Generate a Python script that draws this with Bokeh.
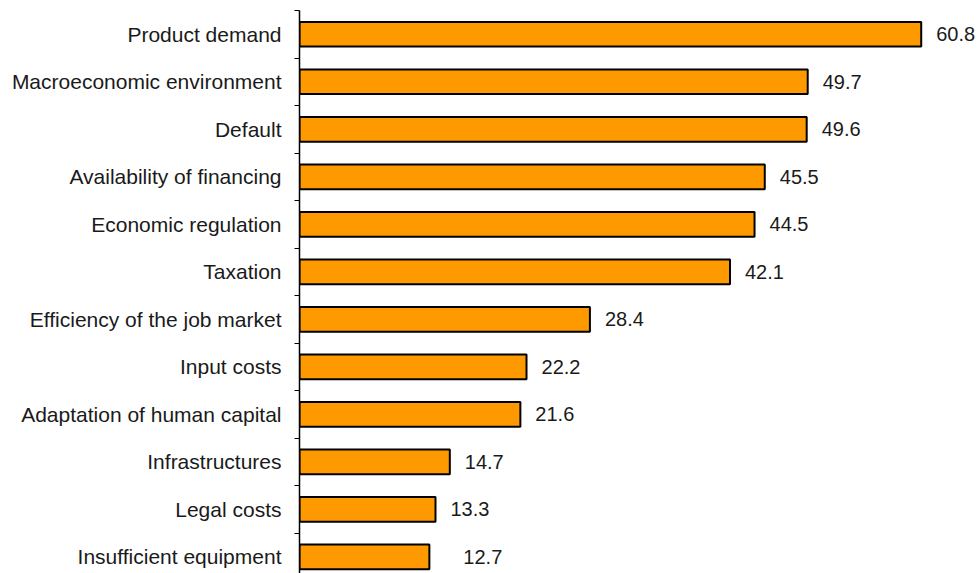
from bokeh.plotting import figure
from bokeh.models import ColumnDataSource, Range1d, FixedTicker
from bokeh.core.properties import value
from bokeh.embed import file_html
from bokeh.resources import INLINE

categories = ["Product demand", "Macroeconomic environment", "Default",
              "Availability of financing", "Economic regulation", "Taxation",
              "Efficiency of the job market", "Input costs",
              "Adaptation of human capital", "Infrastructures", "Legal costs",
              "Insufficient equipment"]
values = [60.8, 49.7, 49.6, 45.5, 44.5, 42.1, 28.4, 22.2, 21.6, 14.7, 13.3, 12.7]
value_labels = ["60.8", "49.7", "49.6", "45.5", "44.5", "42.1", "28.4", "22.2",
                "21.6", "14.7", "13.3", "12.7"]
label_offsets = [15, 15, 15, 15, 15, 15, 15, 15, 15, 15, 15, 34]

pos = list(range(len(categories)))
src = ColumnDataSource(dict(y=pos, v=values, lab=value_labels, off=label_offsets))

p = figure(width=979, height=573, output_backend="svg", toolbar_location=None,
           x_range=Range1d(0, 66.5), y_range=Range1d(11.35, -0.5),
           min_border_left=299, min_border_right=0, min_border_top=10,
           min_border_bottom=0)
p.outline_line_color = None
p.xgrid.visible = False
p.ygrid.visible = False
p.xaxis.visible = False

p.hbar(y="y", left=0, right="v", height=0.52, source=src,
       fill_color="#FF9900", line_color="black", line_width=2)
p.text(x="v", y="y", text="lab", x_offset="off", source=src,
       text_font=value("Liberation Sans"), text_font_size="20px",
       text_color="#1a1a1a", text_baseline="middle", text_align="left")

ax = p.yaxis[0]
ax.ticker = FixedTicker(ticks=pos, minor_ticks=[i - 0.5 for i in range(len(categories))])
ax.major_label_overrides = {i: c for i, c in enumerate(categories)}
ax.major_tick_out = 0
ax.major_tick_in = 0
ax.minor_tick_out = 5
ax.minor_tick_in = 0
ax.minor_tick_line_color = "black"
ax.axis_line_color = "black"
ax.axis_line_width = 1.5
ax.major_label_standoff = 13
ax.major_label_text_font = "Liberation Sans"
ax.major_label_text_font_size = "21px"
ax.major_label_text_color = "#1a1a1a"

open("out.html", "w").write(file_html(p, INLINE))
